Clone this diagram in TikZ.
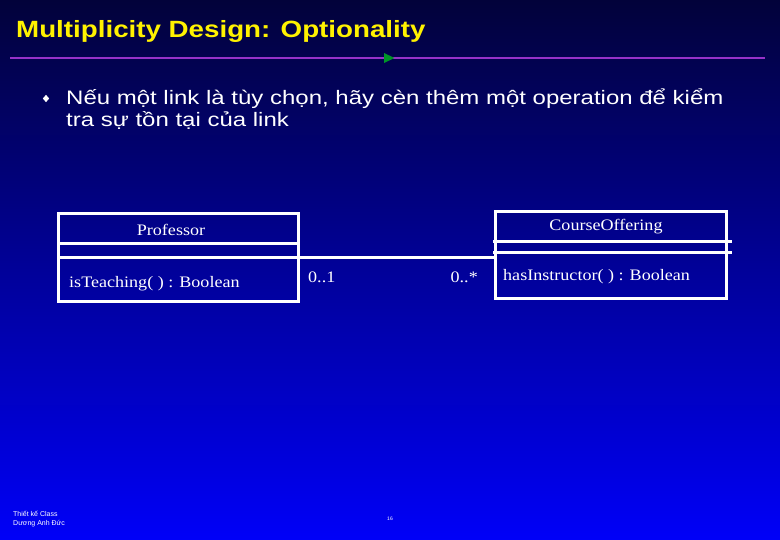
\documentclass[tikz,border=0pt]{standalone}
\usepackage{fontspec}
\setmainfont[FakeStretch=1.13]{Liberation Serif}
\newfontfamily\titlefont[FakeStretch=1.18]{Liberation Sans}
\newfontfamily\bodyfont[FakeStretch=1.23]{Liberation Sans}
\newfontfamily\smallfont{Liberation Sans}
\usetikzlibrary{shapes.geometric}

\definecolor{slidetop}{RGB}{2,2,58}
\definecolor{slidebottom}{RGB}{0,0,248}
\definecolor{rulepurple}{RGB}{150,50,200}
\definecolor{arrowgreen}{RGB}{0,150,40}

\tikzset{
    classbox/.style={draw=white, line width=3pt, inner sep=0pt},
    classline/.style={draw=white, line width=3pt},
    umltext/.style={text=white, inner sep=0pt, font=\fontsize{16}{18}\selectfont},
    bodytext/.style={text=white, inner sep=0pt, anchor=base west, font=\bodyfont\fontsize{19.5}{22}\selectfont},
}

\begin{document}
\begin{tikzpicture}[x=1pt,y=-1pt]

            \shade[top color=slidetop, bottom color=slidebottom] (0,0) rectangle (780,540);
            \useasboundingbox (0,0) rectangle (780,540);

            \node[anchor=base west, inner sep=0pt, text=yellow, font=\titlefont\bfseries\fontsize{23.5}{26}\selectfont] (title) at (16,38) {Multiplicity Design: Optionality};

            \draw[rulepurple, line width=2.8pt] (10,58) -- (765,58);
            \fill[arrowgreen] (384,53) -- (394.5,58) -- (384,63) -- cycle;

            \node[diamond, fill=white, inner sep=0pt, minimum width=6.5pt, minimum height=7.5pt] (bullet) at (46,98.5) {};
            \node[bodytext] (line1) at (66,105) {Nếu một link là tùy chọn, hãy cèn thêm một operation để kiểm};
            \node[bodytext] (line2) at (66,127) {tra sự tồn tại của link};

            % Professor
            \node[classbox, minimum width=240, minimum height=88.5] (prof) at (178.3,257.5) {};
            \draw[classline] (58.3,243.3) -- (300,243.3);
            \node[umltext, anchor=base] (profname) at (171,236) {Professor};
            \node[umltext, anchor=base west] (profop) at (69,287.5) {isTeaching( ) : Boolean};

            % CourseOffering
            \node[classbox, minimum width=231.7, minimum height=86.6] (course) at (611,255) {};
            \draw[classline] (493.3,241.7) -- (731.7,241.7);
            \draw[classline] (493.3,252.7) -- (731.7,252.7);
            \node[umltext, anchor=base] (coursename) at (606,231) {CourseOffering};
            \node[umltext, anchor=base west] (courseop) at (503,280.5) {hasInstructor( ) : Boolean};

            % association
            \coordinate (profsep) at (58.3,257.8);
            \draw[classline] (profsep) -- (course.west |- profsep);
            \node[umltext, anchor=base west] (multprof) at (308,283) {0..1};
            \node[umltext, anchor=base east] (multcourse) at (478,283) {0..*};

            \node[anchor=base west, inner sep=0pt, text=white, font=\smallfont\fontsize{7}{8.5}\selectfont] (foot1) at (13,516) {Thiết kế Class};
            \node[anchor=base west, inner sep=0pt, text=white, font=\smallfont\fontsize{7}{8.5}\selectfont] (foot2) at (13,525) {Dương Anh Đức};
            \node[anchor=base, inner sep=0pt, text=white, font=\smallfont\fontsize{5}{6}\selectfont] (pagenum) at (390,520) {16};

\end{tikzpicture}
\end{document}
